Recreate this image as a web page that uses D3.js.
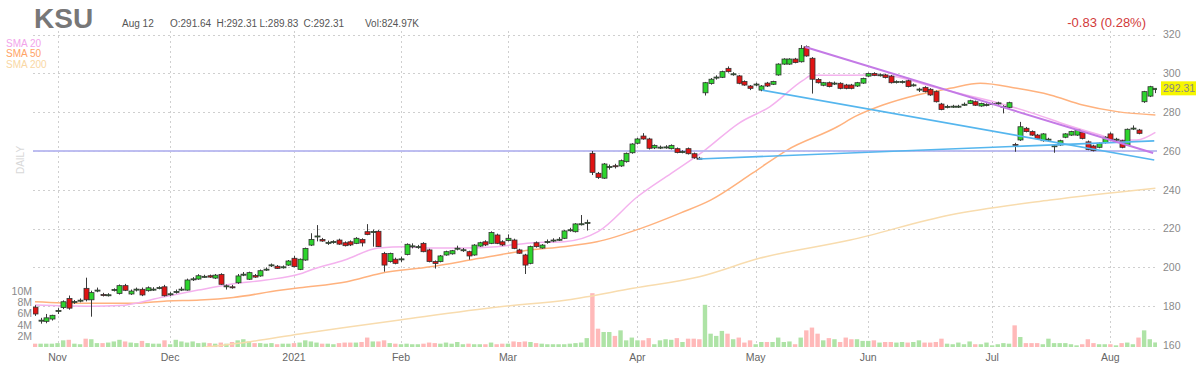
<!DOCTYPE html>
<html><head><meta charset="utf-8">
<script src="https://cdn.jsdelivr.net/npm/d3@7/dist/d3.min.js"></script>
<style>
html,body{margin:0;padding:0;background:#fff;}
svg{display:block;font-family:"Liberation Sans",Arial,sans-serif;}
</style></head>
<body><svg id="chart" width="1200" height="375"></svg>
<script>
// ---- DATA ----
const ticker = "KSU";
const headerDate = "Aug 12";
const headerOHLC = ["O:291.64", "H:292.31", "L:289.83", "C:292.31"];
const headerVol = "Vol:824.97K";
const changeText = "-0.83 (0.28%)";
const lastPrice = 292.31;

const opens = [179.5,172.4,172.2,173.4,177.3,179.3,184.0,182.0,182.8,189.2,183.3,188.0,186.0,185.7,188.3,186.6,190.6,186.3,188.5,188.7,188.0,188.5,189.3,190.0,
186.1,187.3,188.4,188.3,193.8,194.0,195.1,195.7,194.5,196.4,190.2,190.0,192.1,196.2,193.9,195.8,195.6,198.8,201.0,200.6,200.0,201.2,
204.7,199.0,203.8,211.5,215.8,214.4,212.6,213.0,214.1,212.7,213.2,212.4,214.4,218.4,218.2,218.6,207.2,203.0,204.2,
204.0,206.7,210.8,210.4,212.4,209.0,203.0,203.0,206.4,207.0,209.6,209.0,208.1,206.4,211.0,213.2,212.4,216.7,213.2,
213.8,214.1,209.0,206.4,202.1,212.7,210.0,213.0,213.8,214.2,215.0,219.1,218.4,222.2,222.8,258.8,248.5,246.0,251.7,252.4,252.3,254.5,259.1,
264.0,267.7,266.2,261.6,261.8,261.9,261.2,261.2,259.5,261.2,258.6,256.3,290.0,294.8,297.9,298.0,302.6,299.6,298.7,295.8,293.5,
294.3,291.4,295.0,294.4,299.2,304.8,304.8,307.4,306.0,313.7,307.8,296.9,293.9,295.2,294.8,294.9,294.0,294.0,293.5,295.0,
298.6,300.0,299.1,299.2,298.6,295.6,295.6,296.2,293.9,291.7,292.8,291.8,290.6,284.2,282.8,282.9,282.9,283.9,284.5,285.4,283.2,283.8,
284.3,284.6,282.8,282.5,263.4,265.7,271.7,270.0,268.2,265.3,265.9,262.5,263.1,267.1,268.2,268.2,269.6,264.7,262.6,261.9,264.3,
268.8,265.9,265.3,263.1,271.5,270.8,285.4,288.3,291.64];
const highs = [180.5,174.0,176.0,175.6,179.0,183.0,185.5,183.2,184.0,194.7,188.0,189.6,186.9,186.7,189.2,191.2,191.5,188.6,189.6,189.6,190.2,189.8,190.3,191.0,
187.2,188.6,190.0,194.2,195.0,196.5,196.2,196.3,196.6,197.0,191.2,191.0,196.6,197.6,197.8,196.6,198.9,200.0,202.0,201.2,201.0,203.8,
206.0,204.6,210.2,217.6,221.8,215.2,213.8,214.0,214.8,213.4,213.9,215.6,215.0,222.3,219.5,219.2,208.0,207.6,205.0,
205.5,212.4,212.4,211.6,213.0,209.6,203.6,206.4,208.6,209.0,211.2,210.0,208.6,212.0,213.2,214.0,218.6,217.4,214.0,
217.0,214.8,209.6,207.0,211.2,213.4,212.0,214.4,215.0,215.6,219.2,220.4,222.8,227.0,224.6,260.0,249.2,253.8,253.0,253.4,255.6,259.2,264.0,
266.8,269.2,266.8,263.4,262.8,263.0,263.4,261.8,260.4,261.8,259.2,257.0,295.6,297.6,299.0,301.4,303.6,300.6,299.2,296.4,294.0,
295.2,294.0,295.6,296.2,305.2,307.8,307.8,308.0,314.6,314.4,308.4,297.6,295.6,295.8,295.8,295.4,294.6,294.6,295.6,297.8,
300.4,300.6,300.0,299.8,299.2,296.4,296.4,296.8,294.8,292.6,293.4,292.4,291.2,284.8,283.8,283.8,283.8,285.0,286.4,286.0,284.9,284.6,
285.0,285.4,283.6,285.4,264.2,275.0,272.4,270.6,268.8,269.2,266.8,263.4,265.8,269.2,270.4,271.2,270.2,265.4,263.2,264.4,267.6,
269.6,266.8,265.8,271.6,273.2,271.4,291.0,293.6,292.31];
const lows = [175.0,171.0,171.2,172.6,176.0,178.5,178.2,181.2,182.0,182.5,174.6,187.2,185.0,185.0,187.6,186.0,187.8,185.8,187.6,185.2,187.5,187.9,188.7,185.0,
185.3,186.5,187.8,188.0,193.0,193.6,194.6,194.6,194.0,191.0,188.6,189.0,191.5,195.5,193.5,194.6,195.2,198.2,200.2,199.2,199.4,200.8,
200.0,198.6,203.4,211.0,213.4,213.2,211.6,212.2,211.6,210.8,211.0,212.0,210.8,216.6,210.7,210.5,197.8,202.5,201.6,
202.8,206.2,209.8,209.6,207.8,202.6,199.4,202.6,206.0,206.6,208.8,208.0,204.0,206.0,210.6,211.0,212.0,212.0,211.0,
213.4,209.4,207.0,196.6,201.6,210.2,209.6,212.2,213.0,213.6,214.6,218.4,218.0,221.6,219.0,247.6,245.6,245.6,250.4,251.0,251.8,254.0,258.6,
263.4,265.8,260.8,261.0,261.0,261.2,260.8,258.8,258.8,258.2,256.0,255.4,288.6,294.2,296.8,297.6,300.4,298.8,294.4,293.6,291.4,
293.4,290.8,293.0,294.0,298.8,304.4,304.4,305.2,305.6,308.6,289.6,294.8,293.4,292.8,294.0,291.8,291.8,291.8,293.0,294.6,
298.2,298.6,298.4,297.4,294.8,294.8,294.8,292.8,293.2,290.4,290.2,288.4,285.0,281.0,282.0,282.2,282.2,283.2,284.2,283.2,282.8,283.0,
283.6,283.9,279.4,282.0,259.6,265.2,269.6,267.8,266.0,264.8,265.0,259.1,262.6,266.6,267.8,267.8,266.0,260.4,259.8,261.4,263.8,
265.6,265.2,261.4,262.6,270.8,268.6,284.8,287.8,289.83];
const closes = [176.0,172.8,174.0,175.3,177.8,182.3,179.0,182.4,183.1,183.3,187.0,188.3,185.8,185.9,188.6,190.6,188.2,187.8,188.8,185.8,189.5,188.8,189.6,185.4,
186.4,187.6,188.8,193.5,194.1,195.7,195.4,195.0,196.0,191.3,190.5,189.9,195.6,196.5,197.3,195.0,198.3,199.1,201.3,199.5,200.3,203.3,
200.4,204.2,209.8,214.4,216.2,213.6,212.9,213.3,212.0,211.2,211.6,215.0,212.6,217.0,218.5,210.7,201.2,207.2,202.1,
204.4,211.9,211.1,210.7,208.1,203.0,202.0,205.9,208.1,208.6,209.9,209.1,205.9,211.5,212.7,211.6,218.0,212.4,211.6,
215.0,209.8,207.3,201.2,210.7,210.7,211.5,213.3,214.1,214.5,218.8,219.4,222.4,222.5,223.2,249.0,246.4,253.3,252.0,252.1,255.0,258.8,263.6,
266.2,266.2,261.4,262.9,262.0,262.1,262.9,259.2,259.7,258.6,256.5,256.1,295.2,297.0,298.1,300.9,300.9,299.8,294.9,294.0,292.3,
294.5,293.5,293.5,295.8,304.8,307.4,307.4,305.6,312.9,309.0,297.0,295.2,295.2,293.2,295.0,292.3,292.3,292.3,295.2,297.4,
300.0,299.0,299.3,297.9,295.2,295.8,295.8,293.2,294.1,291.9,290.6,288.9,285.4,281.4,283.0,283.1,283.1,284.1,285.9,283.6,284.5,284.0,
284.5,284.8,283.0,284.9,263.0,272.5,270.0,268.2,266.5,268.8,266.1,262.7,265.3,268.8,270.0,270.8,266.5,260.8,260.2,264.0,267.1,
266.0,266.1,261.9,271.2,271.8,269.1,290.6,293.14,292.31];
// volume in millions
const volumes = [0.6,0.6,0.6,0.6,0.7,1.2,1.3,0.6,0.5,1.5,1.4,0.7,0.7,0.8,1.0,1.3,1.0,0.8,0.7,1.1,0.7,0.6,0.6,1.2,
0.5,1.3,1.0,0.8,1.0,0.7,0.8,0.7,0.6,0.8,0.6,0.9,1.2,1.4,1.0,0.7,0.7,0.6,0.7,0.5,0.6,0.6,
0.7,0.8,1.2,1.0,0.8,0.6,0.6,0.5,0.7,0.8,0.8,0.8,0.9,1.7,1.0,1.0,1.2,0.7,0.6,
0.5,0.6,0.5,0.5,0.6,0.8,0.7,0.6,0.8,0.6,0.9,0.5,0.6,0.5,0.5,0.5,0.8,0.5,0.6,
0.6,1.0,0.9,1.0,0.9,0.7,0.6,0.5,0.5,0.5,0.5,0.6,0.7,0.8,1.6,9.7,3.3,2.7,2.7,2.0,3.0,1.2,1.7,
1.2,1.2,1.6,0.5,1.2,1.4,1.3,1.6,0.9,1.5,1.5,1.4,7.6,2.4,2.0,2.9,2.4,1.4,1.7,0.8,1.2,
0.5,0.9,0.9,0.9,1.7,0.9,1.0,0.5,1.7,3.0,3.5,2.4,1.2,1.6,1.4,0.9,1.7,1.4,1.4,1.1,
1.1,1.2,0.8,0.9,0.9,0.8,0.9,0.8,0.9,1.2,0.8,0.8,0.9,1.5,0.6,0.5,0.8,0.5,1.0,0.5,0.5,0.8,
0.3,0.5,0.7,0.6,3.9,1.8,0.7,0.7,0.7,0.5,1.5,0.7,0.7,0.7,0.5,0.3,0.5,1.4,0.7,0.5,0.5,
0.5,0.3,0.7,0.8,0.5,1.7,3.0,1.4,0.82];

// month ticks (trading-day index, label)
const tickIndex = [4, 24, 46, 65, 84, 107, 128, 148, 170, 191];
const tickLabels = ["Nov", "Dec", "2021", "Feb", "Mar", "Apr", "May", "Jun", "Jul", "Aug"];
const priceTicks = [160, 180, 200, 220, 240, 260, 280, 300, 320];
const volTicks = [2, 4, 6, 8, 10];
const volTickLabels = ["2M", "4M", "6M", "8M", "10M"];

// moving averages: [index, value]
const sma20 = [[0,180.6],[10,180.0],[15,180.3],[23,184.9],[29,188.3],[35,191.4],[41,193.5],[47,196.6],[49,198.7],[55,203.8],[61,210.0],[66,210.7],[70,210.0],[76,210.0],[82,210.7],[88,212.6],[94,213.2],[100,218.4],[107,236.4],[113,248.5],[119,260.5],[125,274.3],[130.5,282.8],[136.4,296.4],[138,299.0],[142,299.0],[148,299.2],[151,299.0],[159.5,293.1],[165.5,288.8],[171.4,284.5],[177.3,279.4],[183.3,273.4],[189.2,268.2],[192.2,265.7],[195.7,265.7],[199,269.6]];
const sma50 = [[0,182.3],[8.5,181.5],[17.4,181.5],[23.4,182.7],[29.3,183.2],[35.2,184.5],[43.5,188.2],[47,189.5],[55.4,192.6],[61.3,196.9],[70.2,200.3],[79,204.7],[88,209.0],[93.8,210.7],[99.8,213.2],[107.5,220.0],[114.6,228.0],[120,234.7],[127.5,248.7],[133.6,260.5],[142.5,272.5],[145.6,277.7],[150.6,283.7],[156.7,288.9],[162.5,292.3],[167.9,294.9],[174.4,292.3],[180.3,288.9],[186.1,283.7],[192.2,280.3],[199,278.6]];
const sma200 = [[30,158.8],[38.2,161.7],[47,165.7],[56,169.4],[64.8,172.9],[82.6,179.7],[94.5,183.2],[106.2,189.2],[118,195.2],[128.8,204.8],[144.8,214.1],[162.5,227.0],[180.3,234.7],[199,240.8]];

// drawn trend lines: [[index, price],[index, price]]
const trendPurple = [[136.8, 313.6], [198.6, 259.0]];
const trendBlueUpper = [[129.1, 291.4], [198.8, 255.4]];
const trendBlueLower = [[117.8, 255.9], [198.8, 265.2]];
const levelLine = 260;

// ---- CHART ----
const svg = d3.select("#chart");
const x = d3.scaleLinear().domain([0, 199]).range([35, 1155.4]);
const y = d3.scaleLinear().domain([160, 320]).range([345, 34.6]);
const yv = d3.scaleLinear().domain([0, 10]).range([347, 291.5]);
const plotL = 33, plotR = 1157, plotT = 31, plotB = 347;

svg.append("defs").append("clipPath").attr("id","clip")
  .append("rect").attr("x", plotL).attr("y", plotT).attr("width", plotR-plotL).attr("height", plotB-plotT);

const grid = svg.append("g");
grid.selectAll("line.h").data(priceTicks.filter(d => d > 160)).join("line")
  .attr("x1", plotL).attr("x2", plotR).attr("y1", d => Math.round(y(d))+0.5).attr("y2", d => Math.round(y(d))+0.5)
  .attr("stroke", "#cfcfcf").attr("stroke-dasharray", "2,3");
grid.selectAll("line.v").data(tickIndex).join("line")
  .attr("x1", d => Math.round(x(d))+0.5).attr("x2", d => Math.round(x(d))+0.5).attr("y1", plotT).attr("y2", plotB)
  .attr("stroke", "#cfcfcf").attr("stroke-dasharray", "2,3");

// x axis labels
svg.append("g").selectAll("text").data(tickIndex).join("text")
  .attr("x", d => x(d)).attr("y", 361).attr("text-anchor", "middle")
  .attr("font-size", 10.5).attr("fill", "#666").text((d, i) => tickLabels[i]);

// right price axis labels
svg.append("g").selectAll("text").data(priceTicks).join("text")
  .attr("x", 1163).attr("y", d => y(d)).attr("dy", "0.36em")
  .attr("font-size", 10.5).attr("fill", "#8a8a8a").text(d => d);

// volume axis labels
svg.append("g").selectAll("text").data(volTicks).join("text")
  .attr("x", 32).attr("y", d => yv(d)).attr("dy", "0.36em").attr("text-anchor", "end")
  .attr("font-size", 10.5).attr("fill", "#8a8a8a").text((d, i) => volTickLabels[i]);

const plot = svg.append("g").attr("clip-path", "url(#clip)");
const idx = d3.range(opens.length);

// volume bars
plot.append("g").selectAll("rect").data(idx).join("rect")
  .attr("x", i => x(i) - 2.2).attr("width", 4.4)
  .attr("y", i => yv(volumes[i])).attr("height", i => yv(0) - yv(volumes[i]))
  .attr("fill", i => closes[i] >= opens[i] ? "#aee3a6" : "#ffb9b9");

// moving averages
const line = d3.line().x(d => x(d[0])).y(d => y(d[1])).curve(d3.curveMonotoneX);
plot.append("path").attr("d", line(sma200)).attr("fill", "none").attr("stroke", "#f8dcae").attr("stroke-width", 1.5);
plot.append("path").attr("d", line(sma50)).attr("fill", "none").attr("stroke", "#ffb27e").attr("stroke-width", 1.5);
plot.append("path").attr("d", line(sma20)).attr("fill", "none").attr("stroke", "#f4b2ee").attr("stroke-width", 1.5);

// level line
plot.append("line").attr("x1", plotL).attr("x2", plotR).attr("y1", y(levelLine)).attr("y2", y(levelLine))
  .attr("stroke", "#b8b8f0").attr("stroke-width", 2).attr("opacity", 0.9);

// candles
const cg = plot.append("g");
cg.selectAll("line").data(idx).join("line")
  .attr("x1", i => Math.round(x(i))+0.5).attr("x2", i => Math.round(x(i))+0.5)
  .attr("y1", i => y(highs[i])).attr("y2", i => y(lows[i]))
  .attr("stroke", "#3a3a3a").attr("stroke-width", 1);
cg.selectAll("rect").data(idx).join("rect")
  .attr("x", i => Math.round(x(i)) - 2)
  .attr("width", 5)
  .attr("y", i => y(Math.max(opens[i], closes[i])))
  .attr("height", i => Math.max(1, Math.abs(y(opens[i]) - y(closes[i]))))
  .attr("fill", i => closes[i] >= opens[i] ? "#2dd42d" : "#e01414")
  .attr("stroke", "#333").attr("stroke-width", 0.8);

// trend lines
const tl = d3.line().x(d => x(d[0])).y(d => y(d[1]));
plot.append("path").attr("d", tl(trendBlueLower)).attr("stroke", "#55b6ee").attr("stroke-width", 1.6).attr("fill", "none");
plot.append("path").attr("d", tl(trendBlueUpper)).attr("stroke", "#55b6ee").attr("stroke-width", 1.6).attr("fill", "none");
plot.append("path").attr("d", tl(trendPurple)).attr("stroke", "#c47ae6").attr("stroke-width", 2).attr("fill", "none");

// last price label
const lp = svg.append("g");
lp.append("rect").attr("x", 1161).attr("y", y(lastPrice) - 7).attr("width", 35).attr("height", 14).attr("fill", "#f6f600");
lp.append("text").attr("x", 1163).attr("y", y(lastPrice)).attr("dy", "0.36em").attr("font-size", 10.5).attr("fill", "#888").text(lastPrice.toFixed(2));

// header
svg.append("text").attr("x", 34).attr("y", 28).attr("font-size", 28).attr("font-weight", "bold").attr("fill", "#777").text(ticker);
svg.append("text").attr("x", 122).attr("y", 27).attr("font-size", 10).attr("fill", "#555").text(headerDate);
const hx = [170, 216.5, 259.5, 303.5];
svg.append("g").selectAll("text").data(headerOHLC).join("text")
  .attr("x", (d, i) => hx[i]).attr("y", 27).attr("font-size", 10).attr("fill", "#555").text(d => d);
svg.append("text").attr("x", 365).attr("y", 27).attr("font-size", 10).attr("fill", "#555").text(headerVol);
svg.append("text").attr("x", 1146).attr("y", 27).attr("text-anchor", "end").attr("font-size", 13).attr("fill", "#d23a3a").text(changeText);

// legend
const legend = [["SMA 20", "#f2a4ea"], ["SMA 50", "#ffa366"], ["SMA 200", "#f9d7a4"]];
svg.append("g").selectAll("text").data(legend).join("text")
  .attr("x", 6).attr("y", (d, i) => 46.5 + i * 10.5).attr("font-size", 10).attr("fill", d => d[1]).text(d => d[0]);

// DAILY
svg.append("text").attr("transform", "translate(24,160) rotate(-90)").attr("text-anchor", "middle")
  .attr("font-size", 10).attr("fill", "#d8d8d8").text("DAILY");
</script></body></html>
